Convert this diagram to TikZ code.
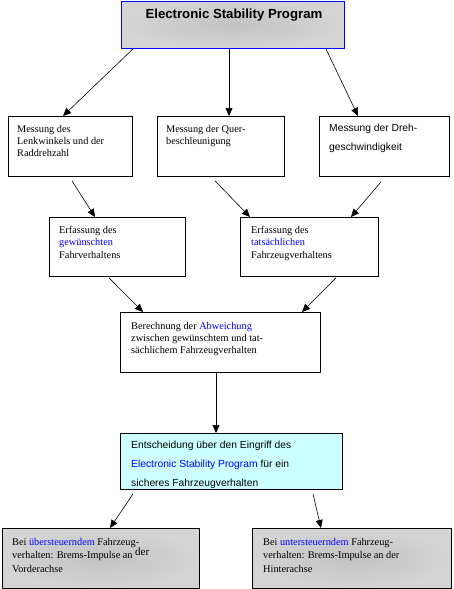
\documentclass[tikz,border=0pt]{standalone}
\usepackage{fontspec}
\setmainfont{Liberation Serif}
\newfontfamily\arialf{Liberation Sans}
\usetikzlibrary{arrows.meta,calc}
\definecolor{escblue}{RGB}{0,0,255}
\definecolor{graymid}{RGB}{194,194,194}
\definecolor{grayout}{RGB}{212,212,212}
\definecolor{lightcyanbox}{RGB}{204,255,255}
\begin{document}
\begin{tikzpicture}[x=1pt,y=-1pt,
  box/.style={draw=black,line width=0.9pt,inner sep=0pt,anchor=north west},
  graybox/.style={box,shading=radial,inner color=graymid,outer color=grayout},
  txt/.style={anchor=north west,inner sep=0pt,align=left,font=\fontsize{10.3}{12.3}\selectfont},
  txtwide/.style={txt,font=\fontsize{10.3}{13.5}\selectfont},
  sanstxt/.style={anchor=north west,inner sep=0pt,align=left,font=\arialf\fontsize{10.3}{19}\selectfont},
  arr/.style={line width=0.6pt,-{Triangle[length=8pt,width=7pt]}}
]
\useasboundingbox (0,0) rectangle (454,589);

% title
\node[graybox,draw=escblue,minimum width=223pt,minimum height=47pt] (esp) at (121,1) {};
\node[font=\arialf\bfseries\fontsize{13.2}{15}\selectfont,inner sep=0pt] (espt) at ($(esp.north)+(1,14)$) {Electronic Stability Program};

% row 2
\node[box,minimum width=124pt,minimum height=60pt] (m1) at (8,116) {};
\node[txt] (m1t) at ($(m1.north west)+(9,9)$) {Messung des\\Lenkwinkels und der\\Raddrehzahl};
\node[box,minimum width=127pt,minimum height=60pt] (m2) at (157,116) {};
\node[txt] (m2t) at ($(m2.north west)+(9,9)$) {Messung der Quer-\\beschleunigung};
\node[box,minimum width=130pt,minimum height=60pt] (m3) at (319,116) {};
\node[sanstxt] (m3t) at ($(m3.north west)+(10,8)$) {Messung der Dreh-\\geschwindigkeit};

% row 3
\node[box,minimum width=136pt,minimum height=59pt] (ea) at (49,217) {};
\node[txt] (eat) at ($(ea.north west)+(10,9)$) {Erfassung des\\\textcolor{escblue}{gewünschten}\\Fahrverhaltens};
\node[box,minimum width=138pt,minimum height=59pt] (eb) at (240,217) {};
\node[txt] (ebt) at ($(eb.north west)+(11,9)$) {Erfassung des\\\textcolor{escblue}{tatsächlichen}\\Fahrzeugverhaltens};

% row 4
\node[box,minimum width=200pt,minimum height=60pt] (bc) at (120,312) {};
\node[txt] (bct) at ($(bc.north west)+(11,10)$) {Berechnung der \textcolor{escblue}{Abweichung}\\zwischen gewünschtem und tat-\\sächlichem Fahrzeugverhalten};

% row 5
\node[box,fill=lightcyanbox,minimum width=222pt,minimum height=56pt] (ent) at (120,433) {};
\node[sanstxt] (entt) at ($(ent.north west)+(11,8)$) {Entscheidung über den Eingriff des\\\textcolor{escblue}{Electronic Stability Program} für ein\\sicheres Fahrzeugverhalten};

% row 6
\node[graybox,minimum width=197pt,minimum height=60pt] (lv) at (2,528) {};
\node[txtwide] (lvt) at ($(lv.north west)+(10,10)$) {Bei \textcolor{escblue}{übersteuerndem} Fahrzeug-\\verhalten: Brems-Impulse an \raisebox{3pt}{\fontsize{11}{11}\selectfont der}\\Vorderachse};
\node[graybox,minimum width=199pt,minimum height=60pt] (rh) at (252,528) {};
\node[txtwide] (rht) at ($(rh.north west)+(11,10)$) {Bei \textcolor{escblue}{untersteuerndem} Fahrzeug-\\verhalten: Brems-Impulse an der\\Hinterachse};

% connectors
\draw[arr] ($(esp.south west)+(12,0)$) -- ($(m1.north west)+(55,0)$);
\draw[arr] ($(esp.south west)+(108,0)$) -- ($(m2.north west)+(72,0)$);
\draw[arr] ($(esp.south west)+(205,0)$) -- ($(m3.north west)+(39,0)$);

\draw[arr] ($(m1.south west)+(64,4)$) -- ($(ea.north west)+(46,0)$);
\draw[arr] ($(m2.south west)+(58,4)$) -- ($(eb.north west)+(10,0)$);
\draw[arr] ($(m3.south west)+(62,5)$) -- ($(eb.north west)+(111,0)$);

\draw[arr] ($(ea.south west)+(60,1)$) -- ($(bc.north west)+(23,0)$);
\draw[arr] ($(eb.south west)+(96,1)$) -- ($(bc.north west)+(182,0)$);

\draw[arr] ($(bc.south west)+(96,0)$) -- ($(ent.north west)+(96,0)$);

\draw[arr] ($(ent.south west)+(13,4)$) -- ($(lv.north west)+(108,0)$);
\draw[arr] ($(ent.south west)+(193,4)$) -- ($(rh.north west)+(69,0)$);
\end{tikzpicture}
\end{document}
